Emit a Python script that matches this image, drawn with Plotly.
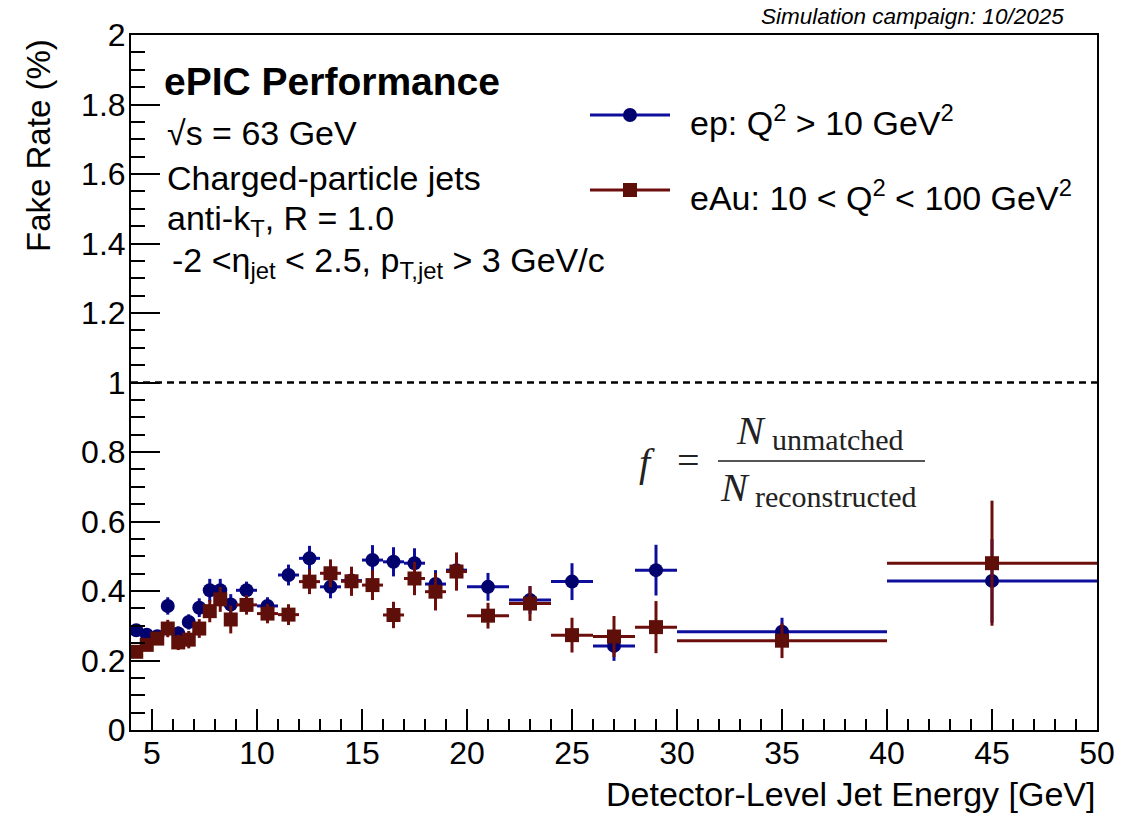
import plotly.graph_objects as go

# Detector-level jet energy binning [GeV]
bin_edges = [4, 4.5, 5, 5.5, 6, 6.5, 7, 7.5, 8, 8.5, 9, 10, 11, 12, 13, 14, 15,
             16, 17, 18, 19, 20, 22, 24, 26, 28, 30, 40, 50]

# Fake rate (%) for ep, Q^2 > 10 GeV^2
ep_rate = [0.287, 0.274, 0.270, 0.357, 0.278, 0.311, 0.352, 0.402, 0.402, 0.361,
           0.402, 0.357, 0.446, 0.494, 0.412, 0.430, 0.489, 0.484, 0.480, 0.420,
           0.460, 0.412, 0.374, 0.427, 0.242, 0.460, 0.283, 0.429]
ep_err = [0.015, 0.015, 0.017, 0.025, 0.020, 0.022, 0.027, 0.033, 0.033, 0.030,
          0.025, 0.025, 0.030, 0.036, 0.033, 0.035, 0.043, 0.042, 0.043, 0.040,
          0.045, 0.040, 0.040, 0.053, 0.043, 0.073, 0.040, 0.120]

# Fake rate (%) for eAu, 10 < Q^2 < 100 GeV^2
eau_rate = [0.225, 0.245, 0.263, 0.292, 0.252, 0.260, 0.292, 0.342, 0.376, 0.318,
            0.360, 0.335, 0.332, 0.427, 0.451, 0.428, 0.417, 0.331, 0.436, 0.398,
            0.456, 0.329, 0.364, 0.273, 0.269, 0.296, 0.257, 0.480]
eau_err = [0.015, 0.017, 0.018, 0.025, 0.022, 0.025, 0.027, 0.032, 0.036, 0.040,
           0.028, 0.028, 0.030, 0.036, 0.040, 0.042, 0.043, 0.038, 0.048, 0.054,
           0.055, 0.037, 0.050, 0.050, 0.059, 0.075, 0.050, 0.180]

centers = [(a + b) / 2 for a, b in zip(bin_edges[:-1], bin_edges[1:])]
half_widths = [(b - a) / 2 for a, b in zip(bin_edges[:-1], bin_edges[1:])]

FONT = "Liberation Sans, Arial, Helvetica, sans-serif"
SERIF = "Liberation Serif, Times New Roman, serif"

EP_LINE, EP_MARK = "#0e0e9c", "#02026f"
EAU_LINE, EAU_MARK = "#6c0f0c", "#5e0f0a"

# plot-area geometry in pixels
L, R, T, B = 131, 1097, 35, 730
W, H = R - L, B - T


def px(x):
    return (x - L) / W


def py(y):
    return (B - y) / H


fig = go.Figure()

for rate, err, lc, mc, sym, msize in [
    (ep_rate, ep_err, EP_LINE, EP_MARK, "circle", 14),
    (eau_rate, eau_err, EAU_LINE, EAU_MARK, "square", 14),
]:
    fig.add_trace(go.Scatter(
        x=centers, y=rate, mode="markers",
        marker=dict(symbol=sym, size=msize, color=mc, line=dict(width=0)),
        error_x=dict(type="data", array=half_widths, color=lc, thickness=3, width=0),
        error_y=dict(type="data", array=err, color=lc, thickness=3, width=0),
        showlegend=False, hoverinfo="x+y",
    ))

shapes = [
    # reference line at 1 %
    dict(type="line", xref="x", yref="y", x0=4, x1=50, y0=1, y1=1,
         line=dict(color="black", width=2.5, dash="7px,5px"), layer="below"),
]

annotations = []

# legend entries
for ypix, lc, mc, shp, label in [
    (115, EP_LINE, EP_MARK, "circle", "ep: Q<sup>2</sup> &gt; 10 GeV<sup>2</sup>"),
    (190, EAU_LINE, EAU_MARK, "rect", "eAu: 10 &lt; Q<sup>2</sup> &lt; 100 GeV<sup>2</sup>"),
]:
    shapes.append(dict(type="line", xref="paper", yref="paper",
                       x0=px(590), x1=px(670), y0=py(ypix), y1=py(ypix),
                       line=dict(color=lc, width=3)))
    shapes.append(dict(type=shp, xref="paper", yref="paper",
                       xsizemode="pixel", ysizemode="pixel",
                       xanchor=px(630), yanchor=py(ypix),
                       x0=-7, x1=7, y0=-7, y1=7,
                       fillcolor=mc, line=dict(width=0)))
    annotations.append(dict(text=label, xref="paper", yref="paper",
                            x=px(688), y=py(ypix + 5), xanchor="left", yanchor="middle",
                            showarrow=False, font=dict(family=FONT, size=34, color="black")))

# performance label block
annotations.append(dict(text="<b>ePIC Performance</b>", xref="paper", yref="paper",
                        x=px(162), y=py(82), xanchor="left", yanchor="middle",
                        showarrow=False, font=dict(family=FONT, size=39, color="black")))
info_lines = [
    (133, 165, "√s = 63 GeV"),
    (178, 165, "Charged-particle jets"),
    (220, 165, "anti-k<sub>T</sub>, R = 1.0"),
    (262, 170, "-2 &lt;η<sub>jet</sub> &lt; 2.5, p<sub>T,jet</sub> &gt; 3 GeV/c"),
]
for ypix, xpix, txt in info_lines:
    annotations.append(dict(text=txt, xref="paper", yref="paper",
                            x=px(xpix), y=py(ypix), xanchor="left", yanchor="middle",
                            showarrow=False, font=dict(family=FONT, size=34, color="black")))

# simulation campaign tag
annotations.append(dict(text="<i>Simulation campaign: 10/2025</i>", xref="paper", yref="paper",
                        x=px(1066), y=py(17), xanchor="right", yanchor="middle",
                        showarrow=False, font=dict(family=FONT, size=22.5, color="black")))

# axis titles
annotations.append(dict(text="Detector-Level Jet Energy [GeV]", xref="paper", yref="paper",
                        x=1.0, y=py(794), xanchor="right", yanchor="middle",
                        showarrow=False, font=dict(family=FONT, size=34, color="black")))
annotations.append(dict(text="Fake Rate (%)", xref="paper", yref="paper",
                        x=px(38), y=py(146), xanchor="center", yanchor="middle",
                        textangle=-90, showarrow=False,
                        font=dict(family=FONT, size=33, color="black")))

# fake-rate definition
FC = "#222222"
annotations += [
    dict(text="<i>f</i>", x=px(647), y=py(462), font=dict(family=SERIF, size=40, color=FC)),
    dict(text="=", x=px(688), y=py(460), font=dict(family=SERIF, size=40, color=FC)),
    dict(text="<i>N</i>", x=px(751), y=py(430), font=dict(family=SERIF, size=40, color=FC)),
    dict(text="unmatched", x=px(838), y=py(440), font=dict(family=SERIF, size=30, color=FC)),
    dict(text="<i>N</i>", x=px(735), y=py(487), font=dict(family=SERIF, size=40, color=FC)),
    dict(text="reconstructed", x=px(836), y=py(496), font=dict(family=SERIF, size=30, color=FC)),
]
for a in annotations[-6:]:
    a.update(xref="paper", yref="paper", xanchor="center", yanchor="middle", showarrow=False)
shapes.append(dict(type="line", xref="paper", yref="paper",
                   x0=px(718), x1=px(925), y0=py(461), y1=py(461),
                   line=dict(color="#555555", width=2)))

axis_common = dict(
    showline=True, linecolor="black", linewidth=2, mirror=True,
    ticks="inside", tickcolor="black", tickwidth=2,
    showgrid=False, zeroline=False,
    tickfont=dict(family=FONT, size=32, color="black"),
)

fig.update_layout(
    width=1142, height=816,
    margin=dict(l=L, r=1142 - R, t=T, b=816 - B),
    paper_bgcolor="white", plot_bgcolor="white",
    shapes=shapes, annotations=annotations,
    xaxis=dict(range=[4, 50], tick0=0, dtick=5, ticklen=21,
               minor=dict(dtick=1, ticks="inside", ticklen=11, tickcolor="black", tickwidth=2),
               ticklabelstandoff=-6, **axis_common),
    yaxis=dict(range=[0, 2], tick0=0, dtick=0.2, ticklen=29,
               minor=dict(dtick=0.05, ticks="inside", ticklen=14, tickcolor="black", tickwidth=2),
               ticklabelstandoff=-3, **axis_common),
)

fig.write_html("out.html")
